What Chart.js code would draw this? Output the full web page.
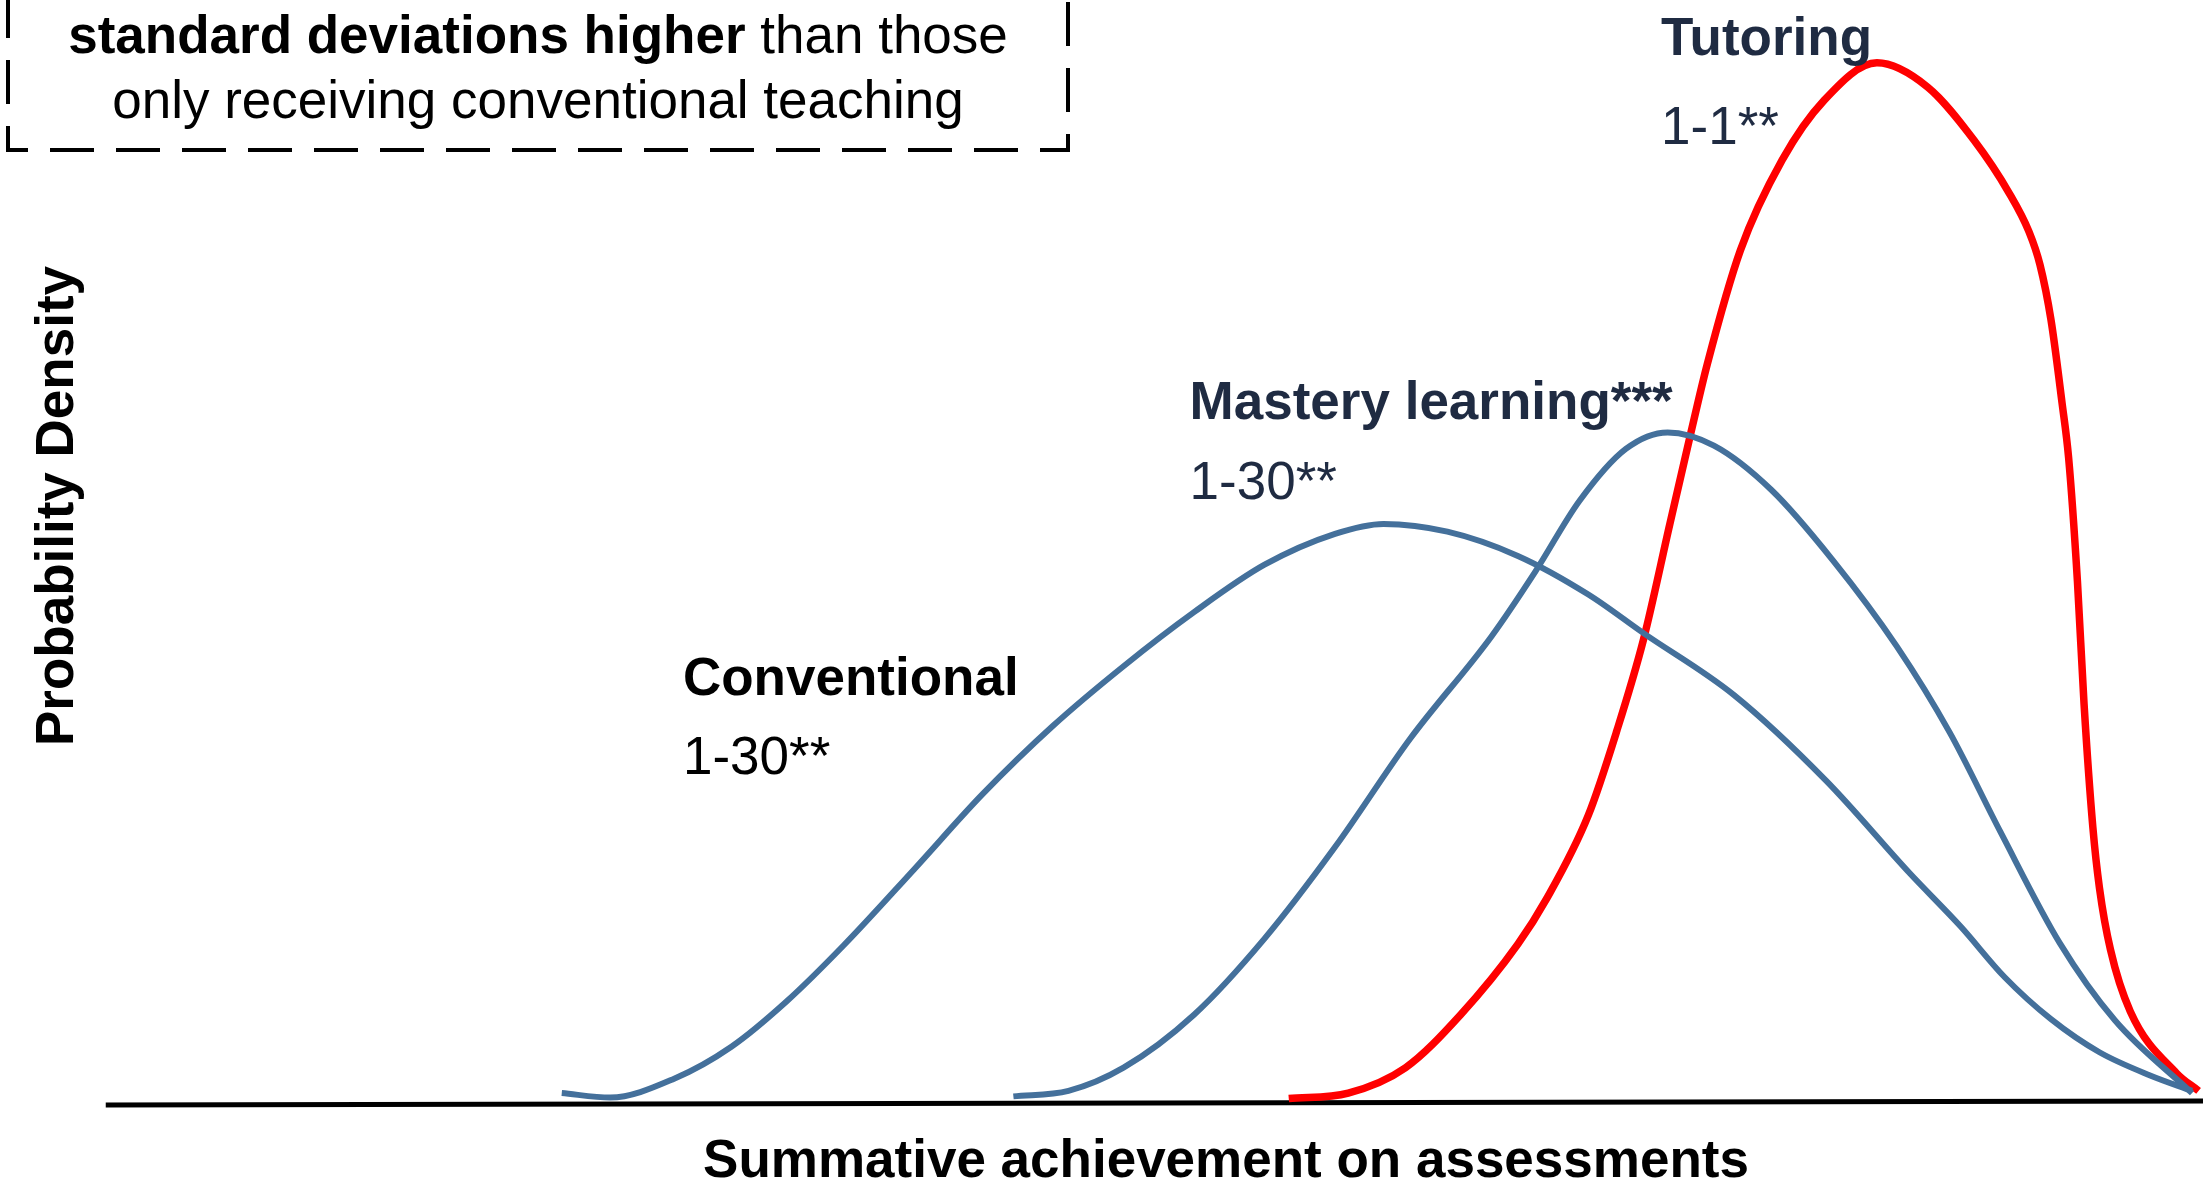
<!DOCTYPE html>
<html>
<head>
<meta charset="utf-8">
<script src="https://cdn.jsdelivr.net/npm/chart.js@4.4.1/dist/chart.umd.min.js"></script>
<style>
  html, body { margin: 0; padding: 0; background: #fff; overflow: hidden; }
  #wrap { width: 2203px; height: 1184px; position: relative; }
</style>
</head>
<body>
<div id="wrap"><canvas id="chart"></canvas></div>
<script>
// achievement (x) and density (y), arbitrary units 0-100
const conventionalX = [25.5, 27.7, 30.6, 33.2, 35.7, 38.3, 41.5, 44.6, 47.8, 51.0, 54.2, 57.4, 60.6, 62.8, 65.7, 68.9, 72.1, 74.6, 78.7, 82.9, 86.7, 89.0, 91.0, 93.1, 95.3, 97.6, 99.5];
const conventionalY = [0.9, 0.5, 2.2, 5.1, 9.2, 14.3, 21.2, 28.0, 34.2, 39.6, 44.5, 48.8, 51.6, 52.5, 51.8, 49.6, 46.1, 42.6, 37.0, 29.2, 20.8, 16.0, 11.4, 7.6, 4.6, 2.5, 1.1];

const masteryX = [46.0, 48.5, 51.0, 54.2, 57.4, 60.6, 64.0, 67.7, 69.7, 71.7, 73.8, 75.7, 77.8, 80.4, 83.2, 86.1, 88.5, 90.8, 93.5, 96.0, 99.5];
const masteryY = [0.6, 1.1, 3.2, 8.0, 14.9, 23.2, 33.0, 42.3, 48.2, 54.6, 59.3, 60.8, 59.6, 55.6, 49.2, 41.4, 33.6, 24.6, 14.5, 7.5, 0.9];

const tutoringX = [58.5, 61.2, 63.8, 66.3, 68.9, 70.2, 72.1, 73.4, 74.6, 75.8, 76.7, 77.5, 79.0, 80.9, 82.8, 85.2, 87.5, 89.6, 91.2, 92.1, 92.6, 93.1, 93.6, 93.9, 94.3, 94.6, 95.0, 95.3, 95.8, 96.7, 98.8, 99.8];
const tutoringY = [0.4, 0.9, 3.2, 8.0, 14.4, 18.5, 26.1, 33.8, 42.0, 52.5, 60.3, 67.0, 77.3, 85.5, 90.9, 94.3, 92.1, 87.3, 82.5, 79.0, 76.0, 71.0, 63.5, 58.5, 47.3, 36.2, 25.0, 19.5, 13.9, 8.3, 2.7, 1.1];

// curve labels: [text, x, y, bold, colour]
const curveLabels = [
  ["Tutoring", 75.4, 95.0, true, "#1f2b42"],
  ["1-1**", 75.4, 86.9, false, "#1f2b42"],
  ["Mastery learning***", 54.0, 62.0, true, "#1f2b42"],
  ["1-30**", 54.0, 54.8, false, "#1f2b42"],
  ["Conventional", 31.0, 37.0, true, "#000000"],
  ["1-30**", 31.0, 29.8, false, "#000000"]
];

const xTitle = "Summative achievement on assessments";
const yTitle = "Probability Density";
const boxBold = "standard deviations higher";
const boxRest = " than those";
const boxLine2 = "only receiving conventional teaching";

const BLUE = "#44709b";
const RED = "#ff0000";
const FONT = '"Liberation Sans", Arial, sans-serif';

function toPoints(xs, ys) {
  return xs.map((x, i) => ({ x: x, y: ys[i] }));
}

const decorations = {
  id: "decorations",
  beforeDatasetsDraw(chart) {
    const { ctx, scales } = chart;
    const y0 = scales.y.getPixelForValue(0);
    ctx.save();
    ctx.strokeStyle = "#000";
    ctx.lineWidth = 5;
    ctx.beginPath();
    ctx.moveTo(scales.x.getPixelForValue(4.8), y0 + 2);
    ctx.lineTo(scales.x.getPixelForValue(100), y0 - 2);
    ctx.stroke();
    ctx.restore();
  },
  afterDatasetsDraw(chart) {
    const { ctx, scales } = chart;
    ctx.save();
    ctx.textBaseline = "alphabetic";

    curveLabels.forEach(([text, x, y, bold, colour]) => {
      ctx.font = (bold ? "bold " : "") + "53px " + FONT;
      ctx.fillStyle = colour;
      ctx.textAlign = "left";
      ctx.fillText(text, scales.x.getPixelForValue(x), scales.y.getPixelForValue(y));
    });

    // axis titles
    ctx.fillStyle = "#000";
    ctx.font = "bold 53px " + FONT;
    ctx.textAlign = "center";
    ctx.fillText(xTitle, 1226, 1177);

    ctx.save();
    ctx.translate(73, 506);
    ctx.rotate(-Math.PI / 2);
    ctx.fillText(yTitle, 0, 0);
    ctx.restore();

    // dashed note box (top is cut off in the original)
    ctx.strokeStyle = "#000";
    ctx.lineWidth = 4;
    ctx.setLineDash([44, 22]);
    ctx.strokeRect(8, -60, 1060, 210);
    ctx.setLineDash([]);

    const cx = 538;
    ctx.textAlign = "left";
    ctx.font = "bold 53px " + FONT;
    const wb = ctx.measureText(boxBold).width;
    ctx.font = "53px " + FONT;
    const wr = ctx.measureText(boxRest).width;
    let sx = cx - (wb + wr) / 2;
    ctx.font = "bold 53px " + FONT;
    ctx.fillText(boxBold, sx, 53);
    ctx.font = "53px " + FONT;
    ctx.fillText(boxRest, sx + wb, 53);
    ctx.textAlign = "center";
    ctx.fillText(boxLine2, cx, 118);

    ctx.restore();
  }
};

const lineStyle = {
  fill: false,
  pointRadius: 0,
  cubicInterpolationMode: "monotone",
  borderCapStyle: "butt"
};

new Chart(document.getElementById("chart"), {
  type: "line",
  data: {
    datasets: [
      { ...lineStyle, label: "Conventional", data: toPoints(conventionalX, conventionalY), borderColor: BLUE, borderWidth: 6 },
      { ...lineStyle, label: "Mastery learning", data: toPoints(masteryX, masteryY), borderColor: BLUE, borderWidth: 6 },
      { ...lineStyle, label: "Tutoring", data: toPoints(tutoringX, tutoringY), borderColor: RED, borderWidth: 7.5 }
    ]
  },
  options: {
    responsive: true,
    maintainAspectRatio: false,
    animation: false,
    layout: { padding: { left: 0, right: 0, top: 0, bottom: 81 } },
    plugins: {
      legend: { display: false },
      tooltip: { enabled: false }
    },
    scales: {
      x: { type: "linear", min: 0, max: 100, display: false },
      y: { min: 0, max: 100, display: false }
    }
  },
  plugins: [decorations]
});
</script>
</body>
</html>
